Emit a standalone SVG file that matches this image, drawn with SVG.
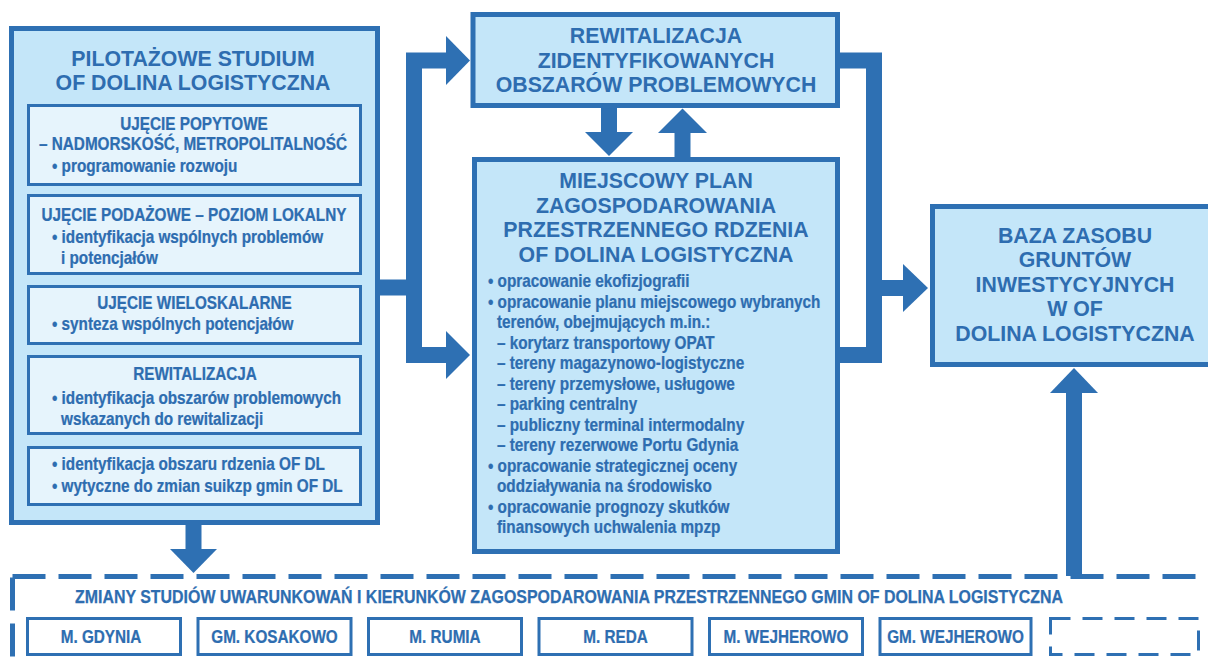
<svg xmlns="http://www.w3.org/2000/svg" width="1208" height="665" viewBox="0 0 1208 665">
<style>
.outer{fill:#c4e6f9;stroke:#2e70b3;stroke-width:5}
.inner{fill:#e6f4fc;stroke:#2e70b3;stroke-width:3}
.muni{fill:#ffffff;stroke:#2e70b3;stroke-width:3}
.t{font-family:"Liberation Sans",Arial,sans-serif;font-weight:bold;font-size:21.3px;fill:#2e6db0;text-anchor:middle}
.c{font-family:"Liberation Sans",Arial,sans-serif;font-weight:bold;font-size:18px;fill:#2e6db0;stroke:#2e6db0;stroke-width:0.25}
.m{text-anchor:middle}
.conn{fill:none;stroke:#2e70b3;stroke-width:16;stroke-linejoin:miter;stroke-linecap:butt}
.head{fill:#2e70b3}
</style>
<g id="connectors">
<path class="conn" d="M378,287.5 H414"/>
<path class="conn" d="M446,60.5 H414 V355 H446"/>
<polygon class="head" points="446,36 470,60.5 446,85"/>
<polygon class="head" points="446,331 470,355 446,379"/>
<path class="conn" d="M840,60.5 H874 V355 H840"/>
<path class="conn" d="M874,288 H904"/>
<polygon class="head" points="903,264 928,288 903,312"/>
<path class="conn" d="M609,108 V133"/>
<polygon class="head" points="585,132 609,156 633,132"/>
<path class="conn" d="M682.5,157 V132"/>
<polygon class="head" points="658,133 682.5,108.5 707,133"/>
<path class="conn" d="M193.5,525 V550"/>
<polygon class="head" points="170,549 193.5,573 217,549"/>
<path class="conn" d="M1074,576 V392"/>
<polygon class="head" points="1050,393 1074,368 1098,393"/>
</g>
<g id="pilotazowe">
<rect class="outer" x="11.5" y="28.5" width="366" height="494"/>
<text class="t" x="193" y="66">PILOTAŻOWE STUDIUM</text>
<text class="t" x="193" y="90">OF DOLINA LOGISTYCZNA</text>
<g id="popytowe">
<rect class="inner" x="28.5" y="105.5" width="332" height="79"/>
<text class="c m" transform="translate(194,130) scale(0.85,1)">UJĘCIE POPYTOWE</text>
<text class="c m" transform="translate(193,150) scale(0.85,1)">– NADMORSKOŚĆ, METROPOLITALNOŚĆ</text>
<text class="c" transform="translate(52,171.5) scale(0.85,1)">• programowanie rozwoju</text>
</g>
<g id="podazowe">
<rect class="inner" x="28.5" y="195.5" width="332" height="78"/>
<text class="c m" transform="translate(194,220.5) scale(0.85,1)">UJĘCIE PODAŻOWE – POZIOM LOKALNY</text>
<text class="c" transform="translate(52,243) scale(0.85,1)">• identyfikacja wspólnych problemów</text>
<text class="c" transform="translate(61,264) scale(0.85,1)">i potencjałów</text>
</g>
<g id="wieloskalarne">
<rect class="inner" x="28.5" y="286.5" width="332" height="57"/>
<text class="c m" transform="translate(194.5,309) scale(0.85,1)">UJĘCIE WIELOSKALARNE</text>
<text class="c" transform="translate(52,330) scale(0.85,1)">• synteza wspólnych potencjałów</text>
</g>
<g id="rewitalizacja-left">
<rect class="inner" x="28.5" y="356.5" width="332" height="77"/>
<text class="c m" transform="translate(195,380) scale(0.85,1)">REWITALIZACJA</text>
<text class="c" transform="translate(52,404) scale(0.85,1)">• identyfikacja obszarów problemowych</text>
<text class="c" transform="translate(61,425) scale(0.85,1)">wskazanych do rewitalizacji</text>
</g>
<g id="rdzen">
<rect class="inner" x="28.5" y="447.5" width="332" height="57"/>
<text class="c" transform="translate(52,470) scale(0.85,1)">• identyfikacja obszaru rdzenia OF DL</text>
<text class="c" transform="translate(52,491.5) scale(0.85,1)">• wytyczne do zmian suikzp gmin OF DL</text>
</g>
</g>
<g id="rewitalizacja">
<rect class="outer" x="473" y="14.5" width="364.5" height="91"/>
<text class="t" x="656" y="43">REWITALIZACJA</text>
<text class="t" x="656" y="68">ZIDENTYFIKOWANYCH</text>
<text class="t" x="656" y="92">OBSZARÓW PROBLEMOWYCH</text>
</g>
<g id="mpzp">
<rect class="outer" x="474.5" y="159.5" width="363" height="392"/>
<text class="t" x="656" y="188">MIEJSCOWY PLAN</text>
<text class="t" x="656" y="213">ZAGOSPODAROWANIA</text>
<text class="t" x="656" y="237">PRZESTRZENNEGO RDZENIA</text>
<text class="t" x="656" y="262">OF DOLINA LOGISTYCZNA</text>
<text class="c" transform="translate(488,287) scale(0.85,1)">• opracowanie ekofizjografii</text>
<text class="c" transform="translate(488,307.5) scale(0.85,1)">• opracowanie planu miejscowego wybranych</text>
<text class="c" transform="translate(497,328) scale(0.85,1)">terenów, obejmujących m.in.:</text>
<text class="c" transform="translate(497,348.5) scale(0.85,1)">– korytarz transportowy OPAT</text>
<text class="c" transform="translate(497,369) scale(0.85,1)">– tereny magazynowo-logistyczne</text>
<text class="c" transform="translate(497,389.5) scale(0.85,1)">– tereny przemysłowe, usługowe</text>
<text class="c" transform="translate(497,410) scale(0.85,1)">– parking centralny</text>
<text class="c" transform="translate(497,430.5) scale(0.85,1)">– publiczny terminal intermodalny</text>
<text class="c" transform="translate(497,451) scale(0.85,1)">– tereny rezerwowe Portu Gdynia</text>
<text class="c" transform="translate(488,471.5) scale(0.85,1)">• opracowanie strategicznej oceny</text>
<text class="c" transform="translate(497,492) scale(0.85,1)">oddziaływania na środowisko</text>
<text class="c" transform="translate(488,512.5) scale(0.85,1)">• opracowanie prognozy skutków</text>
<text class="c" transform="translate(497,533) scale(0.85,1)">finansowych uchwalenia mpzp</text>
</g>
<g id="baza">
<rect class="outer" x="932.5" y="206.5" width="290" height="158"/>
<text class="t" x="1075" y="243">BAZA ZASOBU</text>
<text class="t" x="1075" y="267">GRUNTÓW</text>
<text class="t" x="1075" y="292">INWESTYCYJNYCH</text>
<text class="t" x="1075" y="316">W OF</text>
<text class="t" x="1075" y="341">DOLINA LOGISTYCZNA</text>
</g>
<g id="zmiany">
<rect x="12.5" y="576.5" width="1220" height="200" fill="none" stroke="#2e70b3" stroke-width="5" stroke-dasharray="33 13"/>
<text class="c m" x="569" y="603" textLength="988" lengthAdjust="spacingAndGlyphs">ZMIANY STUDIÓW UWARUNKOWAŃ I KIERUNKÓW ZAGOSPODAROWANIA PRZESTRZENNEGO GMIN OF DOLINA LOGISTYCZNA</text>
<g id="gdynia"><rect class="muni" x="27.5" y="618.5" width="153" height="36"/><text class="c m" transform="translate(101,643) scale(0.85,1)">M. GDYNIA</text></g>
<g id="kosakowo"><rect class="muni" x="198" y="618.5" width="153" height="36"/><text class="c m" transform="translate(274.5,643) scale(0.85,1)">GM. KOSAKOWO</text></g>
<g id="rumia"><rect class="muni" x="368.5" y="618.5" width="153" height="36"/><text class="c m" transform="translate(445,643) scale(0.85,1)">M. RUMIA</text></g>
<g id="reda"><rect class="muni" x="539" y="618.5" width="153" height="36"/><text class="c m" transform="translate(615.5,643) scale(0.85,1)">M. REDA</text></g>
<g id="m-wejherowo"><rect class="muni" x="709.5" y="618.5" width="153" height="36"/><text class="c m" transform="translate(786,643) scale(0.85,1)">M. WEJHEROWO</text></g>
<g id="gm-wejherowo"><rect class="muni" x="880" y="618.5" width="151" height="36"/><text class="c m" transform="translate(955.5,643) scale(0.85,1)">GM. WEJHEROWO</text></g>
<g id="empty"><rect x="1050.5" y="618.5" width="148" height="36" fill="#ffffff" stroke="#2e70b3" stroke-width="3" stroke-dasharray="20 12"/></g>
</g>
</svg>
